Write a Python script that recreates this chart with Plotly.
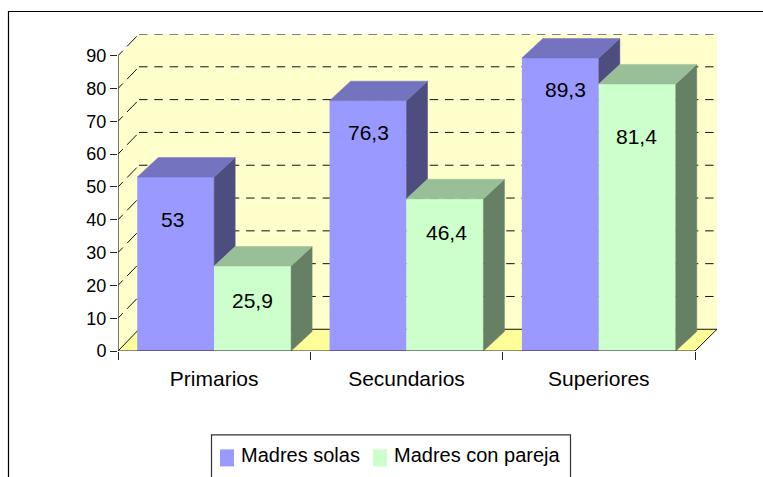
import plotly.graph_objects as go

categories = ["Primarios", "Secundarios", "Superiores"]
series_names = ["Madres solas", "Madres con pareja"]
madres_solas = [53, 76.3, 89.3]
madres_con_pareja = [25.9, 46.4, 81.4]
value_labels_solas = ["53", "76,3", "89,3"]
value_labels_pareja = ["25,9", "46,4", "81,4"]
y_ticks = [0, 10, 20, 30, 40, 50, 60, 70, 80, 90]

# pixel geometry of the plotting frame
W, H = 763, 477
PX_L, PX_R, PX_T, PX_B = 118, 717, 34, 350.7
PX_PER_UNIT = (350.7 - 55.7) / 90
PX_PER_CAT = (695 - 118) / 3
Y_MAX = (PX_B - PX_T) / PX_PER_UNIT
X_MIN, X_MAX = -0.5, -0.5 + (PX_R - PX_L) / PX_PER_CAT
WALL_DX, WALL_DY = 21 / PX_PER_CAT, 21.7 / PX_PER_UNIT
BAR_DX, BAR_DY = 21 / PX_PER_CAT, 19.5 / PX_PER_UNIT
BAR_W = 0.4

BLUE, BLUE_TOP, BLUE_SIDE = "#9999FF", "#7373BF", "#4D4D80"
GREEN, GREEN_TOP, GREEN_SIDE = "#CCFFCC", "#99BF99", "#668066"
WALL, FLOOR = "#FFFFCC", "#FFFF99"
FONT = "Liberation Sans, Arial, sans-serif"


def px(p):
    return (p - PX_L) / (PX_R - PX_L)


def py(p):
    return (PX_B - p) / (PX_B - PX_T)


def poly(xs, ys, color):
    return go.Scatter(x=xs, y=ys, mode="lines", fill="toself", fillcolor=color,
                      line=dict(color=color, width=0.5), hoverinfo="skip",
                      showlegend=False, cliponaxis=False)


n = len(categories)
xs = list(range(n))
fig = go.Figure()
fig.add_trace(go.Bar(x=xs, y=madres_solas, name=series_names[0], marker_color=BLUE,
                     marker_line_width=0, showlegend=False))
fig.add_trace(go.Bar(x=xs, y=madres_con_pareja, name=series_names[1], marker_color=GREEN,
                     marker_line_width=0, showlegend=False))

for i in xs:
    a, b = madres_solas[i], madres_con_pareja[i]
    xl, xm, xr = i - BAR_W, i, i + BAR_W
    # blue side: only the part above the neighbouring green bar is visible
    fig.add_trace(poly([xm, xm + BAR_DX, xm + BAR_DX, xm, xm],
                       [a, a + BAR_DY, b + BAR_DY, b, a], BLUE_SIDE))
    fig.add_trace(poly([xl, xm, xm + BAR_DX, xl + BAR_DX, xl],
                       [a, a, a + BAR_DY, a + BAR_DY, a], BLUE_TOP))
    fig.add_trace(poly([xr, xr + BAR_DX, xr + BAR_DX, xr, xr],
                       [b, b + BAR_DY, BAR_DY, 0, b], GREEN_SIDE))
    fig.add_trace(poly([xm, xr, xr + BAR_DX, xm + BAR_DX, xm],
                       [b, b, b + BAR_DY, b + BAR_DY, b], GREEN_TOP))

# axis lines
LINE = "#222222"
fig.add_trace(go.Scatter(x=[X_MIN, X_MIN], y=[0, y_ticks[-1]], mode="lines",
                         line=dict(color=LINE, width=1.2), hoverinfo="skip",
                         showlegend=False, cliponaxis=False))
fig.add_trace(go.Scatter(x=[X_MIN, n - 0.5], y=[0, 0], mode="lines",
                         line=dict(color=LINE, width=1.2), hoverinfo="skip",
                         showlegend=False, cliponaxis=False))

shapes = []
# back wall, side wall, floor
shapes.append(dict(type="rect", xref="x", yref="y", layer="below", line_width=0, fillcolor=WALL,
                   x0=X_MIN + WALL_DX, x1=X_MAX, y0=WALL_DY, y1=Y_MAX))
shapes.append(dict(type="path", xref="x", yref="y", layer="below", line_width=0, fillcolor=WALL,
                   path=f"M{X_MIN},0 L{X_MIN + WALL_DX},{WALL_DY} L{X_MIN + WALL_DX},{Y_MAX} "
                        f"L{X_MIN},{y_ticks[-1]} Z"))
shapes.append(dict(type="path", xref="x", yref="y", layer="below", line_width=0, fillcolor=FLOOR,
                   path=f"M{X_MIN},0 L{n - 0.5},0 L{X_MAX},{WALL_DY} L{X_MIN + WALL_DX},{WALL_DY} Z"))
for t in y_ticks:
    is_zero = t == 0
    is_top = t == y_ticks[-1]
    color = "#808080" if is_top else "#111111"
    width = 1.8 if is_top else 1
    shapes.append(dict(type="line", xref="x", yref="y", layer="below",
                       x0=X_MIN + WALL_DX, x1=X_MAX, y0=t + WALL_DY, y1=t + WALL_DY,
                       line=dict(color=color, width=width,
                                 dash="solid" if is_zero else "8.5px,6.8px")))
    shapes.append(dict(type="line", xref="x", yref="y", layer="below",
                       x0=X_MIN, x1=X_MIN + WALL_DX, y0=t, y1=t + WALL_DY,
                       line=dict(color="#111111", width=1, dash="solid" if is_zero else "7px,6px,14px,6px")))
# floor right edge
shapes.append(dict(type="line", xref="x", yref="y", layer="below",
                   x0=n - 0.5, x1=X_MAX, y0=0, y1=WALL_DY, line=dict(color="#111111", width=1)))
# outer frame, running past the window edges
shapes.append(dict(type="rect", xref="paper", yref="paper", layer="above",
                   x0=px(8.5), x1=px(W + 40), y0=py(11.5), y1=py(H + 40),
                   line=dict(color="#000000", width=1.2), fillcolor="rgba(0,0,0,0)"))
# legend box and swatches
shapes.append(dict(type="rect", xref="paper", yref="paper", layer="above",
                   x0=px(211.5), x1=px(570.5), y0=py(434.5), y1=py(H + 40),
                   line=dict(color="#333333", width=1.2), fillcolor="#FFFFFF"))
for x0, c in ((220, BLUE), (373, GREEN)):
    shapes.append(dict(type="rect", xref="paper", yref="paper", layer="above", line_width=0,
                       x0=px(x0), x1=px(x0 + 14), y0=py(449), y1=py(466), fillcolor=c))

annotations = []
drop_solas = [42, 32, 31]
drop_pareja = [34, 34, 53]
shift_solas = [-3, 0, 5]
shift_pareja = [0, 2, -1]
for i in xs:
    annotations.append(dict(x=i - BAR_W / 2, y=madres_solas[i], text=value_labels_solas[i],
                            showarrow=False, yshift=-drop_solas[i], xshift=shift_solas[i],
                            font=dict(family=FONT, size=21, color="#000000")))
    annotations.append(dict(x=i + BAR_W / 2, y=madres_con_pareja[i], text=value_labels_pareja[i],
                            showarrow=False, yshift=-drop_pareja[i], xshift=shift_pareja[i],
                            font=dict(family=FONT, size=21, color="#000000")))
for x0, name in ((239, series_names[0]), (392, series_names[1])):
    annotations.append(dict(xref="paper", yref="paper", x=px(x0), y=py(455), text=name,
                            xanchor="left", yanchor="middle", showarrow=False,
                            font=dict(family=FONT, size=20, color="#000000")))

fig.update_layout(
    width=W, height=H, autosize=False,
    margin=dict(l=PX_L, r=W - PX_R, t=PX_T, b=H - PX_B, pad=0),
    paper_bgcolor="#FFFFFF", plot_bgcolor="#FFFFFF",
    barmode="group", bargap=0.2, bargroupgap=0,
    showlegend=False, shapes=shapes, annotations=annotations,
    xaxis=dict(range=[X_MIN, X_MAX], tickmode="array", tickvals=xs, ticktext=categories,
               ticks="", showgrid=False, zeroline=False, showline=False,
               ticklabelstandoff=13,
               tickfont=dict(family=FONT, size=21, color="#000000"),
               minor=dict(tickmode="array", tickvals=[i - 0.5 for i in range(n + 1)],
                          ticks="outside", ticklen=8, tickwidth=1, tickcolor=LINE, showgrid=False)),
    yaxis=dict(range=[0, Y_MAX], tickmode="array", tickvals=y_ticks, ticks="outside",
               ticklen=7, tickwidth=1, tickcolor=LINE, showgrid=False, zeroline=False,
               showline=False, tickfont=dict(family=FONT, size=18, color="#000000")),
)

fig.write_html("out.html", config={"displayModeBar": False},
               post_script="document.body.style.margin='0';document.documentElement.style.overflow='hidden';")
